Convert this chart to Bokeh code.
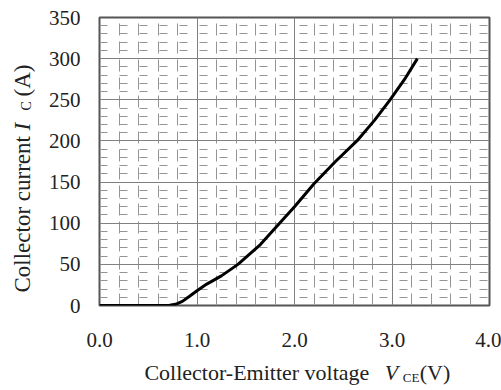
import math
from bokeh.plotting import figure
from bokeh.layouts import row, column
from bokeh.models import Range1d, FixedTicker, PrintfTickFormatter
from bokeh.core.properties import value
from bokeh.embed import file_html
from bokeh.resources import INLINE

# ---- data ----
vce = [0.0, 0.65, 0.72, 0.78, 0.85, 0.92, 1.0, 1.1, 1.25, 1.42, 1.65, 1.84, 2.0, 2.2, 2.42, 2.64, 2.82, 2.98, 3.13, 3.26]
ic = [0.0, 0.0, 0.3, 1.5, 5.0, 11.0, 18.0, 26.0, 36.0, 50.0, 74.0, 99.0, 120.0, 148.0, 175.0, 200.0, 225.0, 250.0, 275.0, 300.0]

x_major_ticks = [0.0, 1.0, 2.0, 3.0, 4.0]
x_minor_ticks = [0.2, 0.4, 0.6, 0.8, 1.2, 1.4, 1.6, 1.8, 2.2, 2.4, 2.6, 2.8, 3.2, 3.4, 3.6, 3.8]
y_major_ticks = [0, 50, 100, 150, 200, 250, 300, 350]
y_minor_ticks = [10, 20, 30, 40, 60, 70, 80, 90, 110, 120, 130, 140, 160, 170, 180, 190,
                 210, 220, 230, 240, 260, 270, 280, 290, 310, 320, 330, 340]

x_title = ["Collector-Emitter voltage", "V", "CE", "(V)"]
y_title = ["Collector current", "I", "C", "(A)"]

FONT = "Liberation Serif"
TXT = "#222222"

# ---- main chart ----
p = figure(width=456, height=355, output_backend="svg", toolbar_location=None,
           title_location=None,
           x_range=Range1d(0, 4), y_range=Range1d(0, 350),
           min_border_left=53, min_border_right=12, min_border_top=17, min_border_bottom=50)
p.background_fill_color = "white"
p.border_fill_color = "white"
p.outline_line_color = "#555555"
p.outline_line_width = 2

p.xaxis.ticker = FixedTicker(ticks=x_major_ticks, minor_ticks=x_minor_ticks)
p.yaxis.ticker = FixedTicker(ticks=y_major_ticks, minor_ticks=y_minor_ticks)
p.xaxis.formatter = PrintfTickFormatter(format="%.1f")

for ax in (p.xaxis, p.yaxis):
    ax.axis_line_color = None
    ax.major_tick_line_color = None
    ax.minor_tick_line_color = None
    ax.major_label_text_font = FONT
    ax.major_label_text_font_size = "21px"
    ax.major_label_text_color = TXT
p.xaxis.major_label_standoff = 21
p.yaxis.major_label_standoff = 13

p.xgrid.grid_line_color = "#808080"
p.ygrid.grid_line_color = "#808080"
p.xgrid.minor_grid_line_color = "#949494"
p.ygrid.minor_grid_line_color = "#949494"
p.xgrid.minor_grid_line_dash = "12 6"
p.ygrid.minor_grid_line_dash = "8 12"

p.line(vce, ic, line_color="black", line_width=3)


def blank(w, h, xr, yr, left=0, right=0):
    f = figure(width=w, height=h, output_backend="svg", toolbar_location=None,
               title_location=None,
               x_range=Range1d(*xr), y_range=Range1d(*yr),
               x_axis_type=None, y_axis_type=None,
               min_border=0, min_border_left=left, min_border_right=right,
               min_border_top=0, min_border_bottom=0)
    f.outline_line_color = None
    f.background_fill_color = "white"
    f.border_fill_color = "white"
    f.grid.visible = False
    return f


def put(f, x, y, text, size, style="normal", angle=0.0):
    f.text(x=[x], y=[y], text=[text], text_font=value(FONT), text_font_size=value(size),
           text_font_style=value(style), text_color=TXT, text_align="left",
           text_baseline="alphabetic", angle=angle)


# ---- x-axis title (below the chart); same side borders as the chart,
#      so x is in page pixels over the frame span 98..489, y = 390 - page y ----
fx = blank(456, 35, (98, 489), (0, 35), left=53, right=12)
put(fx, 143, 18, x_title[0], "22px")
put(fx, 384, 18, x_title[1], "22px", "italic")
put(fx, 402, 13, x_title[2], "13px")
put(fx, 419, 18, x_title[3], "22px")

# ---- y-axis title (left of the chart); x = page x, y = 390 - page y ----
fy = blank(45, 390, (0, 45), (0, 390))
r = math.pi / 2
put(fy, 22, 98, y_title[0], "23px", angle=r)
put(fy, 22, 260, y_title[1], "23px", "italic", angle=r)
put(fy, 26, 280, y_title[2], "14px", angle=r)
put(fy, 22, 294, y_title[3], "23px", angle=r)

layout = row(fy, column(p, fx, spacing=0), spacing=0)

open("out.html", "w").write(file_html(layout, INLINE))
